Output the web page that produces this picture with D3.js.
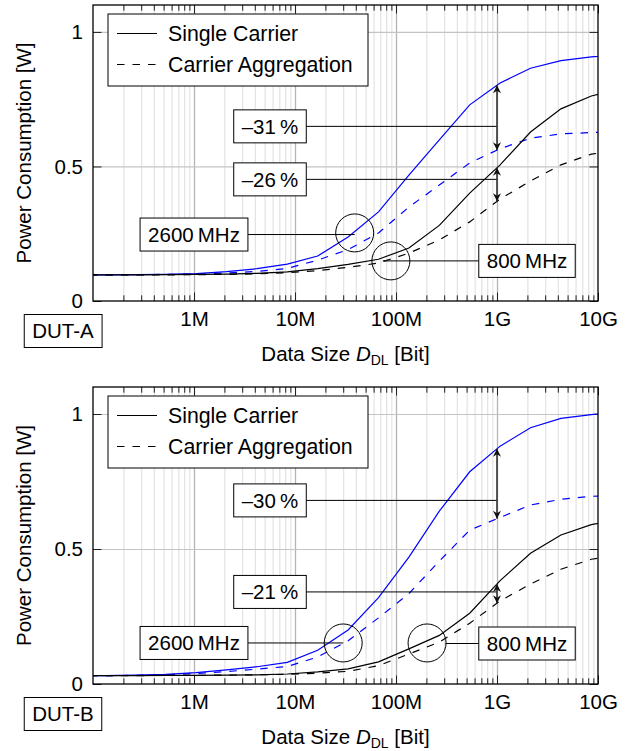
<!DOCTYPE html>
<html>
<head>
<meta charset="utf-8">
<script src="https://cdn.jsdelivr.net/npm/d3@7"></script>
<style>
  body { margin: 0; background: #fff; }
  text { font-family: "Liberation Sans", Arial, Helvetica, sans-serif; font-size: 20.5px; fill: #000; }
  .legend text { font-size: 21.3px; }
</style>
</head>
<body>
<svg id="chart" width="634" height="751"></svg>
<script>
// data size in bit (x values of every curve)
const dataSize = [65536, 131072, 262144, 524288, 1048576, 2097152, 4194304, 8388608,
  16777216, 33554432, 67108864, 134217728, 268435456, 536870912, 1073741824,
  2147483648, 4294967296, 8589934592, 17179869184];

// DUT-A power consumption [W]
const dutA_2600_single = [0.097, 0.097, 0.098, 0.099, 0.102, 0.109, 0.120, 0.137, 0.167, 0.238, 0.331, 0.468, 0.599, 0.729, 0.810, 0.865, 0.893, 0.907, 0.915];
const dutA_2600_ca     = [0.097, 0.097, 0.098, 0.099, 0.100, 0.104, 0.110, 0.121, 0.152, 0.191, 0.253, 0.349, 0.431, 0.513, 0.566, 0.605, 0.621, 0.626, 0.630];
const dutA_800_single  = [0.097, 0.097, 0.097, 0.098, 0.099, 0.100, 0.103, 0.108, 0.120, 0.136, 0.155, 0.197, 0.281, 0.401, 0.506, 0.628, 0.714, 0.762, 0.790];
const dutA_800_ca      = [0.097, 0.097, 0.097, 0.097, 0.098, 0.099, 0.101, 0.105, 0.113, 0.125, 0.141, 0.178, 0.227, 0.294, 0.379, 0.446, 0.506, 0.546, 0.560];

// DUT-B power consumption [W]
const dutB_2600_single = [0.031, 0.031, 0.033, 0.036, 0.042, 0.052, 0.064, 0.080, 0.125, 0.200, 0.320, 0.470, 0.640, 0.786, 0.881, 0.949, 0.984, 0.998, 1.008];
const dutB_2600_ca     = [0.031, 0.031, 0.032, 0.034, 0.039, 0.046, 0.055, 0.065, 0.100, 0.160, 0.245, 0.335, 0.455, 0.570, 0.617, 0.663, 0.684, 0.695, 0.700];
const dutB_800_single  = [0.031, 0.031, 0.031, 0.032, 0.032, 0.033, 0.034, 0.037, 0.045, 0.056, 0.082, 0.130, 0.180, 0.262, 0.383, 0.484, 0.552, 0.590, 0.612];
const dutB_800_ca      = [0.031, 0.031, 0.031, 0.032, 0.032, 0.033, 0.034, 0.036, 0.040, 0.047, 0.068, 0.111, 0.155, 0.225, 0.308, 0.370, 0.425, 0.462, 0.480];

const xTicks = [1e6, 1e7, 1e8, 1e9, 1e10];
const xTickLabels = ["1M", "10M", "100M", "1G", "10G"];
const yTicks = [0, 0.5, 1];
const yTickLabels = ["0", "0.5", "1"];
const legendLabels = ["Single Carrier", "Carrier Aggregation"];

const svg = d3.select("#chart");
const plotLeft = 93, plotRight = 598;
const x = d3.scaleLog().domain([1e5, 1e10]).range([plotLeft, plotRight]);

// minor log positions 2..9 per decade
const minorTicks = [];
for (let e = 5; e < 10; e++) {
  for (let m = 2; m <= 9; m++) minorTicks.push(m * Math.pow(10, e));
}

const panels = [
  {
    name: "DUT-A", top: 5, bottom: 301,
    curves: [
      { values: dutA_2600_single, color: "#0000ff", dash: null },
      { values: dutA_2600_ca, color: "#0000ff", dash: "7.5,8" },
      { values: dutA_800_single, color: "#000", dash: null },
      { values: dutA_800_ca, color: "#000", dash: "7.5,8" }
    ],
    reductions: [
      { label: "\u201331\u2009%", single: dutA_2600_single, ca: dutA_2600_ca, boxY: 0.649 },
      { label: "\u201326\u2009%", single: dutA_800_single, ca: dutA_800_ca, boxY: 0.452 }
    ],
    bands: [
      { label: "2600\u2009MHz", cx: 3.9e7, cy: 0.253, boxX: 194, boxY: 0.247, lineX: 3.9e7 },
      { label: "800\u2009MHz", cx: 8.9e7, cy: 0.149, boxX: 527, boxY: 0.149, lineX: 7.4e7 }
    ]
  },
  {
    name: "DUT-B", top: 387, bottom: 684,
    curves: [
      { values: dutB_2600_single, color: "#0000ff", dash: null },
      { values: dutB_2600_ca, color: "#0000ff", dash: "7.5,8" },
      { values: dutB_800_single, color: "#000", dash: null },
      { values: dutB_800_ca, color: "#000", dash: "7.5,8" }
    ],
    reductions: [
      { label: "\u201330\u2009%", single: dutB_2600_single, ca: dutB_2600_ca, boxY: 0.68 },
      { label: "\u201321\u2009%", single: dutB_800_single, ca: dutB_800_ca, boxY: 0.341 }
    ],
    bands: [
      { label: "2600\u2009MHz", cx: 3.0e7, cy: 0.152, boxX: 194, boxY: 0.152, lineX: 3.0e7 },
      { label: "800\u2009MHz", cx: 2.03e8, cy: 0.152, boxX: 527, boxY: 0.15, lineX: 3.1e8 }
    ]
  }
];

// arrow head marker
const defs = svg.append("defs");
defs.append("marker")
  .attr("id", "head")
  .attr("viewBox", "-10 -5 11 10")
  .attr("refX", 0).attr("refY", 0)
  .attr("markerWidth", 11).attr("markerHeight", 10)
  .attr("markerUnits", "userSpaceOnUse")
  .attr("orient", "auto-start-reverse")
  .append("path")
  .attr("d", "M0,0 L-8,-4 L-5.5,0 L-8,4 Z")
  .attr("fill", "#111");

// value of a curve at data size xv (linear in log x)
function valueAt(values, xv) {
  const lx = Math.log10(xv);
  for (let i = 0; i < dataSize.length - 1; i++) {
    const a = Math.log10(dataSize[i]), b = Math.log10(dataSize[i + 1]);
    if (lx >= a && lx <= b) return values[i] + (values[i + 1] - values[i]) * (lx - a) / (b - a);
  }
  return values[values.length - 1];
}

function boxedText(g, label, cx, cy) {
  const t = g.append("text")
    .attr("x", cx).attr("y", cy).attr("dy", "0.35em")
    .attr("text-anchor", "middle")
    .text(label);
  const bb = t.node().getBBox();
  g.insert("rect", "text")
    .attr("x", bb.x - 8).attr("y", cy - 16.5)
    .attr("width", bb.width + 16).attr("height", 33)
    .attr("fill", "#fff").attr("stroke", "#000").attr("stroke-width", 1);
  return { left: bb.x - 8, right: bb.x + bb.width + 8 };
}

panels.forEach(p => {
  const y = d3.scaleLinear().domain([0, 1.1]).range([p.bottom, p.top]);
  const h = p.bottom - p.top;
  const g = svg.append("g");

  defs.append("clipPath").attr("id", "clip-" + p.name)
    .append("rect").attr("x", plotLeft).attr("y", p.top)
    .attr("width", plotRight - plotLeft).attr("height", h);

  // grid
  const gridMinor = g.append("g").attr("transform", `translate(0,${p.bottom})`)
    .call(d3.axisBottom(x).tickValues(minorTicks).tickSize(-h).tickFormat(""));
  gridMinor.selectAll("line").attr("stroke", "#d4d4d4").attr("stroke-width", 0.8);
  const gridMajor = g.append("g").attr("transform", `translate(0,${p.bottom})`)
    .call(d3.axisBottom(x).tickValues(xTicks.slice(0, -1)).tickSize(-h).tickFormat(""));
  gridMajor.selectAll("line").attr("stroke", "#b4b4b4").attr("stroke-width", 1.3);
  const gridY = g.append("g").attr("transform", `translate(${plotLeft},0)`)
    .call(d3.axisLeft(y).tickValues(yTicks.slice(1)).tickSize(-(plotRight - plotLeft)).tickFormat(""));
  gridY.selectAll("line").attr("stroke", "#c4c4c4").attr("stroke-width", 1.2);
  g.selectAll(".domain").remove();

  // ticks
  const bottomMinor = g.append("g").attr("transform", `translate(0,${p.bottom})`)
    .call(d3.axisBottom(x).tickValues(minorTicks).tickSize(-5.7).tickFormat(""));
  const topMinor = g.append("g").attr("transform", `translate(0,${p.top})`)
    .call(d3.axisTop(x).tickValues(minorTicks).tickSize(-5.7).tickFormat(""));
  const bottomMajor = g.append("g").attr("transform", `translate(0,${p.bottom})`)
    .call(d3.axisBottom(x).tickValues(xTicks).tickSizeInner(-8.5).tickSizeOuter(0)
      .tickPadding(10).tickFormat((d, i) => xTickLabels[i]));
  const topMajor = g.append("g").attr("transform", `translate(0,${p.top})`)
    .call(d3.axisTop(x).tickValues(xTicks).tickSize(-8.5).tickFormat(""));
  const leftAxis = g.append("g").attr("transform", `translate(${plotLeft},0)`)
    .call(d3.axisLeft(y).tickValues(yTicks).tickSizeInner(-8.5).tickSizeOuter(0)
      .tickPadding(10).tickFormat((d, i) => yTickLabels[i]));
  const rightAxis = g.append("g").attr("transform", `translate(${plotRight},0)`)
    .call(d3.axisRight(y).tickValues(yTicks).tickSize(-8.5).tickFormat(""));
  [bottomMinor, topMinor, bottomMajor, topMajor, leftAxis, rightAxis].forEach(a => {
    a.select(".domain").remove();
    a.selectAll("line").attr("stroke", "#222").attr("stroke-width", 1);
  });

  // curves
  const line = d3.line().x(d => x(d[0])).y(d => y(d[1]));
  g.append("g").attr("clip-path", `url(#clip-${p.name})`)
    .selectAll("path")
    .data(p.curves)
    .join("path")
    .attr("d", c => line(d3.zip(dataSize, c.values)))
    .attr("fill", "none")
    .attr("stroke", c => c.color)
    .attr("stroke-width", 1.2)
    .attr("stroke-dasharray", c => c.dash);

  // frame
  g.append("rect")
    .attr("x", plotLeft).attr("y", p.top)
    .attr("width", plotRight - plotLeft).attr("height", h)
    .attr("fill", "none").attr("stroke", "#000").attr("stroke-width", 1.3);

  // legend
  const lg = g.append("g").attr("class", "legend");
  lg.append("rect")
    .attr("x", 108).attr("y", p.top + 9).attr("width", 260).attr("height", 72)
    .attr("fill", "#fff").attr("stroke", "#000").attr("stroke-width", 1);
  legendLabels.forEach((lab, i) => {
    const ly = p.top + 28.5 + i * 31;
    lg.append("line").attr("x1", 117).attr("x2", 157).attr("y1", ly).attr("y2", ly)
      .attr("stroke", "#000").attr("stroke-width", 1.2)
      .attr("stroke-dasharray", i === 1 ? "7.5,8" : null);
    lg.append("text").attr("x", 168).attr("y", ly).attr("dy", "0.35em").text(lab);
  });

  // reduction arrows at 1G
  const ax = x(1e9);
  p.reductions.forEach(r => {
    const by = y(r.boxY);
    const box = boxedText(g.append("g"), r.label, 270, by);
    g.append("line").attr("x1", box.right).attr("x2", ax).attr("y1", by).attr("y2", by)
      .attr("stroke", "#000").attr("stroke-width", 1);
    g.append("line")
      .attr("x1", ax).attr("x2", ax)
      .attr("y1", y(valueAt(r.single, 1e9))).attr("y2", y(valueAt(r.ca, 1e9)))
      .attr("stroke", "#333").attr("stroke-width", 1.6)
      .attr("marker-start", "url(#head)").attr("marker-end", "url(#head)");
  });

  // frequency band markers
  p.bands.forEach(b => {
    const by = y(b.boxY);
    g.append("circle").attr("cx", x(b.cx)).attr("cy", y(b.cy)).attr("r", 19)
      .attr("fill", "none").attr("stroke", "#000").attr("stroke-width", 1);
    const bg = g.append("g");
    const box = boxedText(bg, b.label, b.boxX, by);
    const edge = b.boxX < x(b.lineX) ? box.right : box.left;
    g.insert("line", () => bg.node())
      .attr("x1", edge).attr("x2", x(b.lineX)).attr("y1", by).attr("y2", by)
      .attr("stroke", "#000").attr("stroke-width", 1);
  });

  // DUT label
  boxedText(g.append("g"), p.name, 63, p.bottom + 30);

  // axis titles
  g.append("text")
    .attr("transform", `translate(31,${(p.top + p.bottom) / 2}) rotate(-90)`)
    .attr("text-anchor", "middle")
    .text("Power Consumption [W]");
  const xt = g.append("text")
    .attr("x", (plotLeft + plotRight) / 2).attr("y", p.bottom + 59.5)
    .attr("text-anchor", "middle");
  xt.append("tspan").text("Data Size ");
  xt.append("tspan").attr("font-style", "italic").text("D");
  xt.append("tspan").attr("font-size", "14px").attr("dy", 4).text("DL");
  xt.append("tspan").attr("dy", -4).text(" [Bit]");
});
</script>
</body>
</html>
